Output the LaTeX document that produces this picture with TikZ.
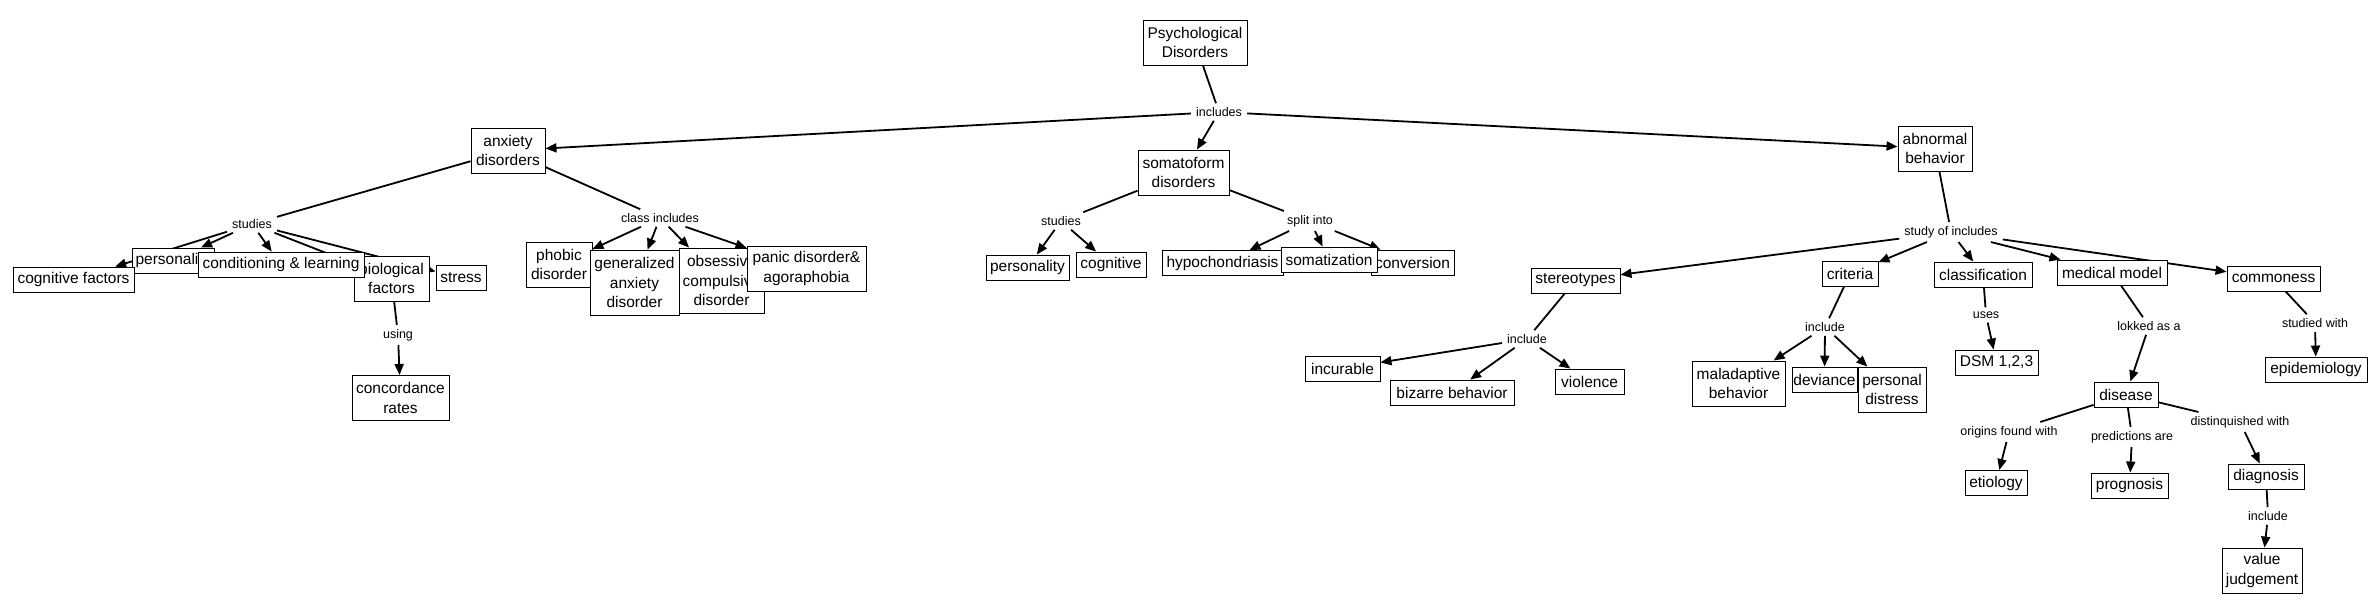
\documentclass[tikz,border=0pt]{standalone}
\usepackage{fontspec}
\setmainfont{Liberation Sans}
\usetikzlibrary{arrows.meta}
\pgfdeclarelayer{back}
\pgfdeclarelayer{bg}
\pgfsetlayers{back,bg,main}
\begin{document}
\begin{tikzpicture}[x=1pt,y=-1pt,
  box/.style={draw, line width=0.9pt, fill=white, inner sep=0pt, align=center,
    font=\fontsize{15.5}{19.5}\selectfont},
  lbl/.style={inner xsep=5pt, inner ysep=4pt, font=\fontsize{12.5}{15}\selectfont},
  con/.style={line width=1.8pt},
  arr/.style={con, -{Triangle[length=11pt,width=9pt]}}]
\begin{pgfonlayer}{back}
\fill[white] (0,0) rectangle (2380,613);
\end{pgfonlayer}
\useasboundingbox (0,0) rectangle (2380,613);

% ---------- labels ----------
\node[lbl] (incl) at (1219,112) {includes};
\node[lbl] (studA) at (252,224) {studies};
\node[lbl] (using) at (398,335) {using};
\node[lbl] (classinc) at (660,218) {class includes};
\node[lbl] (studB) at (1061,221) {studies};
\node[lbl] (split) at (1310,221) {split into};
\node[lbl] (studyof) at (1951,232) {study of includes};
\node[lbl] (inclA) at (1527,339) {include};
\node[lbl] (inclB) at (1825,327) {include};
\node[lbl] (uses) at (1986,315) {uses};
\node[lbl] (lokked) at (2149,326) {lokked as a};
\node[lbl] (studied) at (2315,323) {studied with};
\node[lbl] (orig) at (2009,432) {origins found with};
\node[lbl] (pred) at (2132,437) {predictions are};
\node[lbl] (dist) at (2240,422) {distinquished with};
\node[lbl] (inclC) at (2268,516) {include};

% ---------- boxes ----------
\node[box, minimum width=104pt, minimum height=45pt] (psych) at (1195,42.5) {Psychological\\Disorders};
\node[box, minimum width=74pt, minimum height=45pt] (anx) at (508,150.5) {anxiety\\disorders};
\node[box, minimum width=91pt, minimum height=45pt] (soma) at (1183.5,172.5) {somatoform\\disorders};
\node[box, minimum width=74pt, minimum height=45pt] (abn) at (1935,148.5) {abnormal\\behavior};

\node[box, minimum width=82pt, minimum height=25pt] (persA) at (173,260.5) {personality};
\node[box, minimum width=121pt, minimum height=25pt] (cogf) at (73.5,279.5) {cognitive factors};
\node[box, minimum width=75pt, minimum height=45pt] (bio) at (391.5,278.5) {biological\\factors};
\node[box, minimum width=166pt, minimum height=25pt] (cond) at (281,264.5) {conditioning \& learning};
\node[box, minimum width=50pt, minimum height=25pt] (stress) at (461,278) {stress};
\node[box, minimum width=97pt, minimum height=45pt] (conc) at (400.5,398) {concordance\\rates};

\node[box, minimum width=66pt, minimum height=45pt] (phob) at (559,264.5) {phobic\\disorder};
\node[box, minimum width=85pt, minimum height=65pt] (obs) at (721.5,280.5) {obsessive\\compulsive\\disorder};
\node[box, minimum width=89pt, minimum height=65pt] (gen) at (634.5,282.5) {generalized\\anxiety\\disorder};
\node[box, minimum width=119pt, minimum height=45pt] (panic) at (806.5,268.5) {panic disorder\&\\agoraphobia};

\node[box, minimum width=83pt, minimum height=25pt] (persB) at (1027.5,267.5) {personality};
\node[box, minimum width=70pt, minimum height=25pt] (cogn) at (1111,264.5) {cognitive};
\node[box, minimum width=121pt, minimum height=25pt] (hypo) at (1222.5,263) {hypochondriasis};
\node[box, minimum width=83pt, minimum height=25pt] (conv) at (1412.5,262.5) {conversion};
\node[box, minimum width=96pt, minimum height=25pt] (somz) at (1329,259.5) {somatization};

\node[box, minimum width=89pt, minimum height=25pt] (stereo) at (1575.5,280.5) {stereotypes};
\node[box, minimum width=56pt, minimum height=25pt] (crit) at (1850,274) {criteria};
\node[box, minimum width=98pt, minimum height=25pt] (class) at (1983,274.5) {classification};
\node[box, minimum width=110pt, minimum height=25pt] (med) at (2112,272.5) {medical model};
\node[box, minimum width=93pt, minimum height=25pt] (comm) at (2273.5,278.5) {commoness};

\node[box, minimum width=75pt, minimum height=25pt] (incur) at (1342.5,368.5) {incurable};
\node[box, minimum width=124pt, minimum height=25pt] (biz) at (1452,392.5) {bizarre behavior};
\node[box, minimum width=69pt, minimum height=25pt] (viol) at (1589.5,381.5) {violence};

\node[box, minimum width=93pt, minimum height=45pt] (mal) at (1738.5,383.5) {maladaptive\\behavior};
\node[box, minimum width=68pt, minimum height=45pt] (pdis) at (1892,389.5) {personal\\distress};
\node[box, minimum width=65pt, minimum height=25pt] (dev) at (1824.5,379.5) {deviance};

\node[box, minimum width=83pt, minimum height=25pt] (dsm) at (1996.5,362.5) {DSM 1,2,3};
\node[box, minimum width=64pt, minimum height=25pt] (dis) at (2126,394.5) {disease};
\node[box, minimum width=102pt, minimum height=25pt] (epi) at (2316,369.5) {epidemiology};

\node[box, minimum width=62pt, minimum height=25pt] (etio) at (1996,483) {etiology};
\node[box, minimum width=77pt, minimum height=25pt] (prog) at (2129.5,485.5) {prognosis};
\node[box, minimum width=76pt, minimum height=25pt] (diag) at (2266,476.5) {diagnosis};
\node[box, minimum width=80pt, minimum height=45pt] (val) at (2262,570.5) {value\\judgement};

% ---------- connectors ----------
\begin{pgfonlayer}{bg}
\draw[con] (psych) -- (incl);
\draw[arr] (incl) -- (anx);
\draw[arr] (incl) -- (soma);
\draw[arr] (incl) -- (abn);

\draw[con] (anx) -- (studA);
\draw[arr] (studA) -- (cogf);
\draw[arr] (studA) -- (persA);
\draw[arr] (studA) -- (cond);
\draw[arr] (studA) -- (bio);
\draw[arr] (studA) -- (stress);
\draw[con] (bio) -- (using);
\draw[arr] (using) -- (conc);

\draw[con] (anx) -- (classinc);
\draw[arr] (classinc) -- (phob);
\draw[arr] (classinc) -- (gen);
\draw[arr] (classinc) -- (obs);
\draw[arr] (classinc) -- (panic);

\draw[con] (soma) -- (studB);
\draw[arr] (studB) -- (persB);
\draw[arr] (studB) -- (cogn);
\draw[con] (soma) -- (split);
\draw[arr] (split) -- (hypo);
\draw[arr] (split) -- (somz);
\draw[arr] (split) -- (conv);

\draw[con] (abn) -- (studyof);
\draw[arr] (studyof) -- (stereo);
\draw[arr] (studyof) -- (crit);
\draw[arr] (studyof) -- (class);
\draw[arr] (studyof) -- (med);
\draw[arr] (studyof) -- (comm);

\draw[con] (stereo) -- (inclA);
\draw[arr] (inclA) -- (incur);
\draw[arr] (inclA) -- (biz);
\draw[arr] (inclA) -- (viol);

\draw[con] (crit) -- (inclB);
\draw[arr] (inclB) -- (mal);
\draw[arr] (inclB) -- (dev);
\draw[arr] (inclB) -- (pdis);

\draw[con] (class) -- (uses);
\draw[arr] (uses) -- (dsm);
\draw[con] (med) -- (lokked);
\draw[arr] (lokked) -- (dis);
\draw[con] (comm) -- (studied);
\draw[arr] (studied) -- (epi);

\draw[con] (dis) -- (orig);
\draw[arr] (orig) -- (etio);
\draw[con] (dis) -- (pred);
\draw[arr] (pred) -- (prog);
\draw[con] (dis) -- (dist);
\draw[arr] (dist) -- (diag);
\draw[con] (diag) -- (inclC);
\draw[arr] (inclC) -- (val);
\end{pgfonlayer}
\end{tikzpicture}
\end{document}
